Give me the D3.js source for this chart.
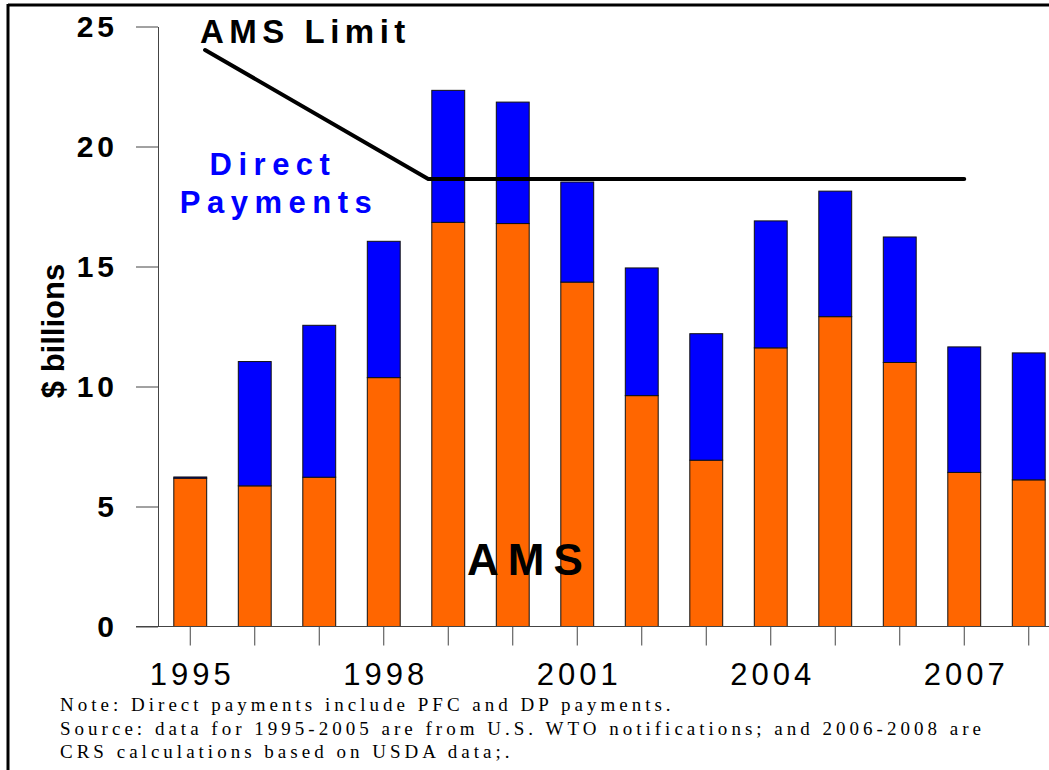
<!DOCTYPE html>
<html>
<head>
<meta charset="utf-8">
<script src="https://cdn.jsdelivr.net/npm/d3@7"></script>
<style>
  html, body { margin: 0; padding: 0; background: #fff; }
  svg { display: block; }
  .serif { font-family: "Liberation Serif", "Times New Roman", "DejaVu Serif", serif; }
</style>
</head>
<body>
<svg id="chart" width="1049" height="770"></svg>
<script>
// ---- data ----
const years = [1995, 1996, 1997, 1998, 1999, 2000, 2001, 2002, 2003, 2004, 2005, 2006, 2007, 2008];
const amsValues = [6.18, 5.86, 6.22, 10.37, 16.84, 16.79, 14.35, 9.62, 6.93, 11.61, 12.91, 11.0, 6.42, 6.11];
const directPayments = [0.05, 5.18, 6.33, 5.68, 5.50, 5.06, 4.17, 5.32, 5.27, 5.29, 5.23, 5.23, 5.23, 5.29];
const xTickLabels = ["1995", "1998", "2001", "2004", "2007"];
const yTickValues = [0, 5, 10, 15, 20, 25];
const limitYears = [1995.23, 1998.69, 2007];
const limitValues = [24.02, 18.65, 18.65];
const notes = [
  "Note: Direct payments include PFC and DP payments.",
  "Source: data for 1995-2005 are from U.S. WTO notifications; and 2006-2008 are",
  "CRS calculations based on USDA data;."
];

const svg = d3.select("#chart");

// frame (clipped slide border)
svg.append("line").attr("x1", 8).attr("y1", 5).attr("x2", 1049).attr("y2", 5)
  .attr("stroke", "#000").attr("stroke-width", 3);
svg.append("line").attr("x1", 8).attr("y1", 4).attr("x2", 8).attr("y2", 770)
  .attr("stroke", "#000").attr("stroke-width", 3);

// scales
const x = d3.scaleBand().domain(years).range([158, 1061]).paddingInner(0.49).paddingOuter(0.245);
const y = d3.scaleLinear().domain([0, 25]).range([626.5, 26.5]);
const xc = d3.scaleLinear().domain([1995, 2008])
  .range([x(1995) + x.bandwidth() / 2, x(2008) + x.bandwidth() / 2]);

// bars
const rows = years.map((yr, i) => ({ yr, ams: amsValues[i], dp: directPayments[i] }));
const bars = svg.append("g");
bars.selectAll("rect.ams").data(rows).join("rect")
  .attr("class", "ams")
  .attr("x", d => x(d.yr)).attr("width", x.bandwidth())
  .attr("y", d => y(d.ams)).attr("height", d => y(0) - y(d.ams))
  .attr("fill", "#FF6600").attr("stroke", "#111").attr("stroke-width", 1);
bars.selectAll("rect.dp").data(rows).join("rect")
  .attr("class", "dp")
  .attr("x", d => x(d.yr)).attr("width", x.bandwidth())
  .attr("y", d => y(d.ams + d.dp)).attr("height", d => y(d.ams) - y(d.ams + d.dp))
  .attr("fill", "#0000FF").attr("stroke", "#111").attr("stroke-width", 1);

const font = "Arial, 'Liberation Sans', sans-serif";

// y axis
const yAxis = d3.axisLeft(y).tickValues(yTickValues).tickSize(22).tickSizeOuter(0).tickPadding(18);
const gy = svg.append("g").attr("transform", "translate(158,0)").call(yAxis);
gy.select(".domain").attr("stroke", "#444").attr("stroke-width", 1);
gy.selectAll(".tick line").attr("stroke", "#444");
gy.selectAll(".tick text")
  .attr("font-family", font)
  .attr("font-weight", "bold").attr("font-size", 30)
  .attr("letter-spacing", 4).attr("fill", "#000");

// x axis
const xAxis = d3.axisBottom(x).tickSize(19).tickSizeOuter(0).tickPadding(17)
  .tickFormat(d => xTickLabels.includes(String(d)) ? String(d) : "");
const gx = svg.append("g").attr("transform", `translate(0,${y(0)})`).call(xAxis);
gx.select(".domain").remove();
gx.selectAll(".tick line").attr("stroke", "#444");
gx.selectAll(".tick text")
  .attr("font-family", font)
  .attr("font-size", 31).attr("letter-spacing", 4).attr("dx", 2).attr("fill", "#000");
svg.append("line").attr("x1", 136).attr("x2", 1049).attr("y1", y(0)).attr("y2", y(0))
  .attr("stroke", "#444").attr("stroke-width", 1);

// y axis title
svg.append("text")
  .attr("transform", `translate(64,331) rotate(-90)`)
  .attr("text-anchor", "middle")
  .attr("font-family", font)
  .attr("font-weight", "bold").attr("font-size", 31)
  .text("$ billions");

// AMS limit line
const limitPts = limitYears.map((yr, i) => [xc(yr), y(limitValues[i])]);
svg.append("path").attr("d", d3.line()(limitPts))
  .attr("fill", "none").attr("stroke", "#000").attr("stroke-width", 4)
  .attr("stroke-linejoin", "round").attr("stroke-linecap", "round");

// annotations
svg.append("text").attr("x", 200).attr("y", 43)
  .attr("font-family", font).attr("font-weight", "bold").attr("font-size", 33)
  .attr("letter-spacing", 5.5).text("AMS Limit");
svg.append("text").attr("x", 273).attr("y", 175).attr("text-anchor", "middle")
  .attr("font-family", font).attr("font-weight", "bold").attr("font-size", 31)
  .attr("letter-spacing", 6.5).attr("fill", "#0000FF").text("Direct");
svg.append("text").attr("x", 279).attr("y", 213).attr("text-anchor", "middle")
  .attr("font-family", font).attr("font-weight", "bold").attr("font-size", 31)
  .attr("letter-spacing", 6.5).attr("fill", "#0000FF").text("Payments");
svg.append("text").attr("x", 467).attr("y", 575)
  .attr("font-family", font).attr("font-weight", "bold").attr("font-size", 44)
  .attr("letter-spacing", 9).text("AMS");

// notes
const noteG = svg.append("g");
const noteTexts = noteG.selectAll("text").data(notes).join("text")
  .attr("class", "serif")
  .attr("x", 60).attr("y", (d, i) => 711 + i * 23.5)
  .attr("font-size", 19).attr("fill", "#000")
  .text(d => d);
const w0 = noteTexts.nodes()[1].getComputedTextLength();
const spacing = Math.max(0, (925 - w0) / notes[1].length);
noteTexts.attr("letter-spacing", spacing);
</script>
</body>
</html>
